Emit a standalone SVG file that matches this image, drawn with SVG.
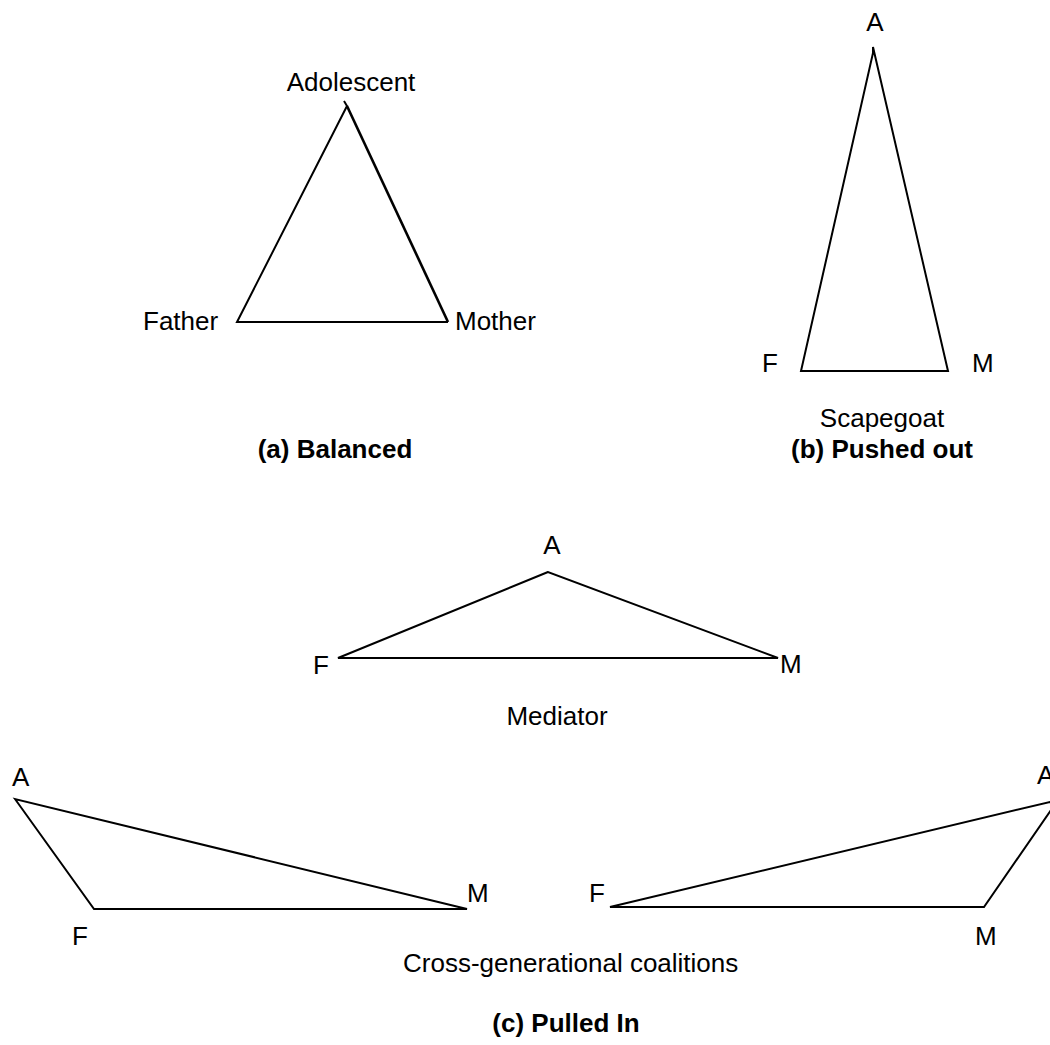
<svg xmlns="http://www.w3.org/2000/svg" width="1050" height="1045" viewBox="0 0 1050 1045">
<style>
.t{font-family:"Liberation Sans",Arial,Helvetica,sans-serif;font-size:26px;fill:#000}
.b{font-family:"Liberation Sans",Arial,Helvetica,sans-serif;font-size:26px;font-weight:bold;fill:#000}
.m{text-anchor:middle}
.e{fill:none;stroke:#000;stroke-width:2;stroke-linejoin:miter;stroke-linecap:butt}
</style>
<rect width="1050" height="1045" fill="#fff"/>
<g id="connectors">
<path class="e" d="M344,101 L347,106 L237,322 L448,322"/>
<path class="e" d="M347,106 L448,322" style="stroke-width:2.6"/>
<path class="e" d="M873,47 L873,53 L801,371 L948,371 Z"/>
<path class="e" d="M548,572 L338,658 L778,658 Z"/>
<path class="e" d="M15,799 L94,909 L467,909 Z"/>
<path class="e" d="M1058,800 L610,907 L984,907 Z"/>
</g>
<g id="balanced">
<text class="t m" x="351" y="91">Adolescent</text>
<text class="t" x="143" y="330">Father</text>
<text class="t" x="455" y="330">Mother</text>
<text class="b m" x="335" y="458">(a) Balanced</text>
</g>
<g id="pushed-out">
<text class="t m" x="875" y="31">A</text>
<text class="t" x="762" y="372">F</text>
<text class="t" x="972" y="372">M</text>
<text class="t m" x="882" y="427">Scapegoat</text>
<text class="b m" x="882" y="458">(b) Pushed out</text>
</g>
<g id="mediator">
<text class="t m" x="552" y="554">A</text>
<text class="t" x="313" y="674">F</text>
<text class="t" x="780" y="673">M</text>
<text class="t m" x="557" y="725">Mediator</text>
</g>
<g id="coalition-left">
<text class="t" x="12" y="786">A</text>
<text class="t" x="467" y="902">M</text>
<text class="t" x="72" y="945">F</text>
</g>
<g id="coalition-right">
<text class="t" x="589" y="902">F</text>
<text class="t" x="1037" y="784">A</text>
<text class="t" x="975" y="945">M</text>
</g>
<g id="pulled-in">
<text class="t" x="403" y="972">Cross-generational coalitions</text>
<text class="b m" x="566" y="1032">(c) Pulled In</text>
</g>
</svg>
